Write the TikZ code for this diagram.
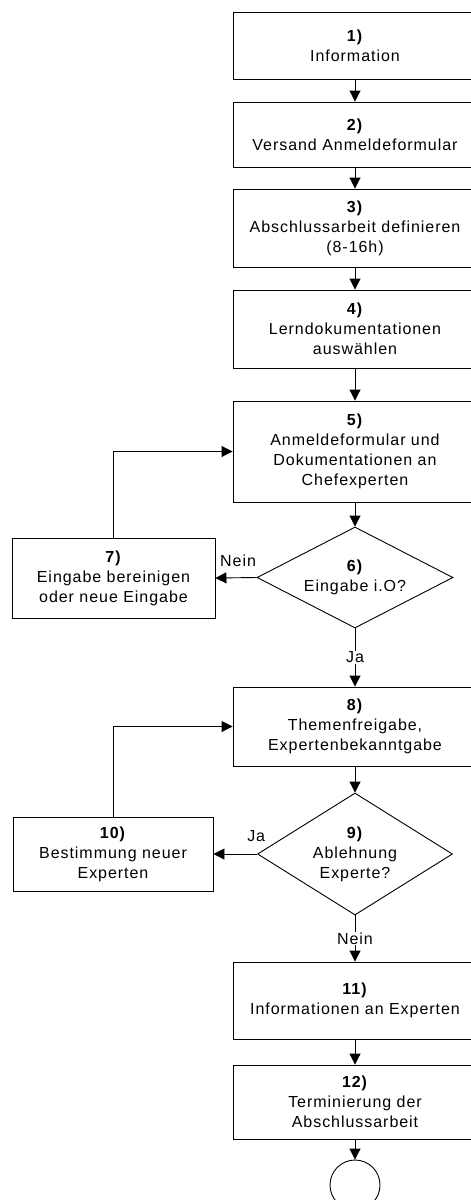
\documentclass[tikz,border=0pt]{standalone}
\usepackage{fontspec}
\setmainfont[LetterSpace=6]{Liberation Sans}
\usetikzlibrary{arrows.meta,shapes.geometric}
\begin{document}
\begin{tikzpicture}[x=1pt,y=-1pt,
  every node/.style={font=\fontsize{16}{20}\selectfont},
  box/.style={draw, line width=0.9pt, minimum width=244pt, align=center, inner sep=2pt},
  sidebox/.style={draw, line width=0.9pt, align=center, inner sep=2pt},
  dec/.style={draw, diamond, line width=0.9pt, align=center, inner sep=0pt},
  arr/.style={-{Triangle[width=11pt,length=11pt]}, line width=0.9pt},
  lbl/.style={inner sep=1pt}]
\useasboundingbox (0,0) rectangle (471,1200);
\clip (0,0) rectangle (471,1200);
\fill[white] (0,0) rectangle (471,1200);

\node[box, minimum height=67pt] (b1) at (355,45.5) {\textbf{1)}\\Information};
\node[box, minimum height=65pt] (b2) at (355,134.5) {\textbf{2)}\\Versand Anmeldeformular};
\node[box, minimum height=78pt] (b3) at (355,228) {\textbf{3)}\\Abschlussarbeit definieren\\(8-16h)};
\node[box, minimum height=78pt] (b4) at (355,329) {\textbf{4)}\\Lerndokumentationen\\auswählen};
\node[box, minimum height=101pt] (b5) at (355,451.5) {\textbf{5)}\\Anmeldeformular und\\Dokumentationen an\\Chefexperten};
\node[dec, minimum width=196pt, minimum height=101pt, aspect=1.94] (d6) at (355,577.5) {\textbf{6)}\\Eingabe i.O?};
\node[sidebox, minimum width=203pt, minimum height=80pt] (b7) at (113.5,578) {\textbf{7)}\\Eingabe bereinigen\\oder neue Eingabe};
\node[box, minimum height=79pt] (b8) at (355,726.5) {\textbf{8)}\\Themenfreigabe,\\Expertenbekanntgabe};
\node[dec, minimum width=195pt, minimum height=122pt, aspect=1.6] (d9) at (355,854) {\textbf{9)}\\Ablehnung\\Experte?};
\node[sidebox, minimum width=200pt, minimum height=74pt] (b10) at (113,854) {\textbf{10)}\\Bestimmung neuer\\Experten};
\node[box, minimum height=77pt] (b11) at (355,1000.5) {\textbf{11)}\\Informationen an Experten};
\node[box, minimum height=74pt] (b12) at (355,1102) {\textbf{12)}\\Terminierung der\\Abschlussarbeit};
\node[draw, circle, line width=0.9pt, minimum size=50pt, inner sep=0pt] (end) at (355,1185) {};

\draw[arr] (b1.south) -- (b2.north);
\draw[arr] (b2.south) -- (b3.north);
\draw[arr] (b3.south) -- (b4.north);
\draw[arr] (b4.south) -- (b5.north);
\draw[arr] (b5.south) -- (d6.north);
\draw[arr] (d6.west) -- node[lbl, above=10pt, pos=0.45] {Nein} (b7.east);
\draw[arr] (b7.north) |- (b5.west);
\draw[arr] (d6.south) -- node[lbl, fill=white] {Ja} (b8.north);
\draw[arr] (b8.south) -- (d9.north);
\draw[arr] (d9.west) -- node[lbl, above=11pt, pos=0.02] {Ja} (b10.east);
\draw[arr] (b10.north) |- (b8.west);
\draw[arr] (d9.south) -- node[lbl, fill=white] {Nein} (b11.north);
\draw[arr] (b11.south) -- (b12.north);
\draw[arr] (b12.south) -- (end.north);
\end{tikzpicture}
\end{document}
